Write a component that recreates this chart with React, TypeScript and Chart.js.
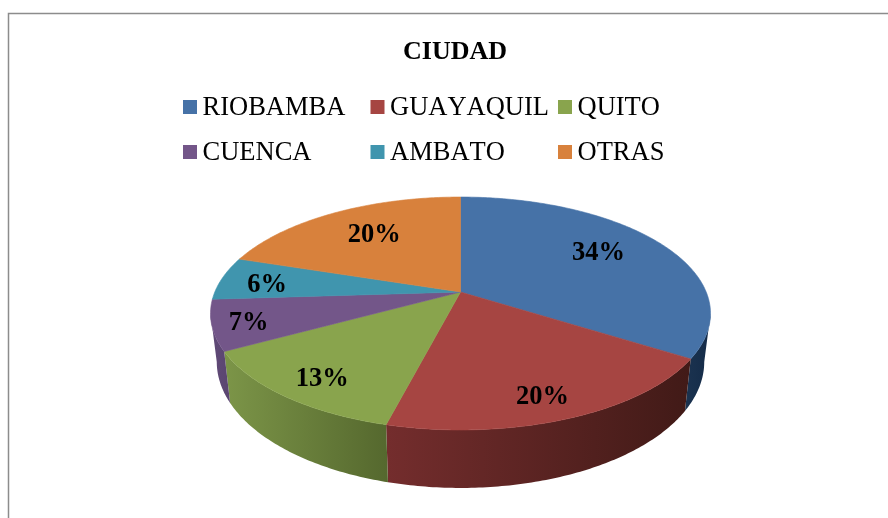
import React, { useEffect, useRef } from "react";
import { Chart, registerables, PieController, ArcElement } from "chart.js";

const categories = ["RIOBAMBA", "GUAYAQUIL", "QUITO", "CUENCA", "AMBATO", "OTRAS"];
const shares = [34, 20, 13, 7, 6, 20];
const topColors = ["#4672A7", "#A64542", "#89A44D", "#735689", "#4095AE", "#D8813C"];
const wallLeft = ["#1B3350", "#742D2D", "#7C9548", "#614A78", "#36788C", "#A8642E"];
const wallRight = ["#142B48", "#411A17", "#55682E", "#5A4570", "#36788C", "#A8642E"];
const labelDepth = [0.68, 0.85, 0.83, 0.87, 0.8, 0.68];
const labelNudgeX = [0, -8, 4, 3, -2, 3];
const labelNudgeY = [-4, 1, 3, 3, 4, -1];
const titleText = "CIUDAD";

const FONT = '"Liberation Serif", "Times New Roman", serif';
const APEX_X = 460.5;
const APEX_Y = 292;
const RADIUS_X = 245.7;
const RADIUS_Y = 112.5;
const TILT = 0.1845;

// Perspective projection of a point on the unit disc (angle clockwise from 12 o'clock).
function project(theta: number, f = 1): [number, number] {
  const u = Math.sin(theta) * f;
  const v = -Math.cos(theta) * f;
  const w = 1 - TILT * v;
  return [APEX_X + (RADIUS_X * u) / w, APEX_Y + (RADIUS_Y * v) / w];
}
function projectLower(theta: number): [number, number] {
  const [x, y] = project(theta);
  return [APEX_X + (x - APEX_X) * 0.975, y * 1.083 + 22.3];
}
function sweep(a: number, b: number): number[] {
  const n = Math.max(2, Math.ceil(Math.abs(b - a) / (Math.PI / 240)));
  const out: number[] = [];
  for (let i = 0; i <= n; i++) out.push(a + ((b - a) * i) / n);
  return out;
}

class Arc3D extends ArcElement {
  static id = "arc3d";
  draw(ctx: CanvasRenderingContext2D) {
    const self = this as any;
    const a = self.startAngle + Math.PI / 2;
    const b = self.endAngle + Math.PI / 2;
    const color = self.options.backgroundColor;
    ctx.save();
    ctx.beginPath();
    ctx.moveTo(APEX_X, APEX_Y);
    for (const t of sweep(a, b)) {
      const [x, y] = project(t);
      ctx.lineTo(x, y);
    }
    ctx.closePath();
    ctx.fillStyle = color;
    ctx.strokeStyle = color;
    ctx.lineWidth = 0.6;
    ctx.fill();
    ctx.stroke();
    ctx.restore();
  }
}

class Pie3DController extends PieController {
  static id = "pie3d";
  static defaults = { dataElementType: "arc3d" };
  draw() {
    const self = this as any;
    const ctx: CanvasRenderingContext2D = self.chart.ctx;
    const arcs = self.getMeta().data;
    const lo = (100.7 * Math.PI) / 180;
    const hi = (259.3 * Math.PI) / 180;
    arcs.forEach((arc: any, i: number) => {
      const a = Math.max(arc.startAngle + Math.PI / 2, lo);
      const b = Math.min(arc.endAngle + Math.PI / 2, hi);
      if (b <= a) return;
      const upper = sweep(a, b).map((t) => project(t));
      const lower = sweep(b, a).map((t) => projectLower(t));
      const pts = upper.concat(lower);
      const xs = pts.map((p) => p[0]);
      const g = ctx.createLinearGradient(Math.min(...xs), 0, Math.max(...xs), 0);
      g.addColorStop(0, wallLeft[i]);
      g.addColorStop(1, wallRight[i]);
      ctx.beginPath();
      pts.forEach((p, k) => (k ? ctx.lineTo(p[0], p[1]) : ctx.moveTo(p[0], p[1])));
      ctx.closePath();
      ctx.fillStyle = g;
      ctx.fill();
    });
    super.draw();
  }
}

Chart.register(...registerables, Arc3D, Pie3DController);

const framePlugin = {
  id: "frame",
  beforeDraw(chart: any) {
    const ctx = chart.ctx;
    ctx.save();
    ctx.strokeStyle = "#8C8C8C";
    ctx.lineWidth = 1.5;
    ctx.beginPath();
    ctx.moveTo(8.5, 518);
    ctx.lineTo(8.5, 13.5);
    ctx.lineTo(888, 13.5);
    ctx.stroke();
    ctx.restore();
  },
};

const legendPlugin = {
  id: "gridLegend",
  afterDraw(chart: any) {
    const ctx = chart.ctx;
    const colors = chart.data.datasets[0].backgroundColor;
    ctx.save();
    ctx.font = `26.5px ${FONT}`;
    ctx.fontKerning = "none";
    ctx.textBaseline = "alphabetic";
    ctx.textAlign = "left";
    chart.data.labels.forEach((name: string, i: number) => {
      const x = 183 + (i % 3) * 187.5;
      const y = 100 + Math.floor(i / 3) * 45;
      ctx.fillStyle = colors[i];
      ctx.fillRect(x, y, 14, 14);
      ctx.fillStyle = "#000";
      ctx.fillText(name, x + 19.5, y + 15);
    });
    ctx.restore();
  },
};

const sliceLabelPlugin = {
  id: "sliceLabels",
  afterDatasetsDraw(chart: any) {
    const ctx = chart.ctx;
    const arcs = chart.getDatasetMeta(0).data;
    ctx.save();
    ctx.font = `bold 26.5px ${FONT}`;
    ctx.fillStyle = "#000";
    ctx.textAlign = "center";
    ctx.textBaseline = "middle";
    arcs.forEach((arc: any, i: number) => {
      const mid = (arc.startAngle + arc.endAngle) / 2 + Math.PI / 2;
      const [x, y] = project(mid, labelDepth[i]);
      ctx.fillText(`${chart.data.datasets[0].data[i]}%`, x + labelNudgeX[i], y + labelNudgeY[i]);
    });
    ctx.restore();
  },
};

export default function App() {
  const ref = useRef<HTMLCanvasElement>(null);
  useEffect(() => {
    const chart = new Chart(ref.current as HTMLCanvasElement, {
      type: "pie3d" as any,
      data: {
        labels: categories,
        datasets: [{ data: shares, backgroundColor: topColors, borderWidth: 0, clip: false } as any],
      },
      plugins: [framePlugin, legendPlugin, sliceLabelPlugin],
      options: {
        responsive: false,
        animation: false,
        events: [],
        layout: { padding: { left: 22 } },
        plugins: {
          legend: { display: false },
          tooltip: { enabled: false },
          title: {
            display: true,
            text: titleText,
            color: "#000",
            font: { family: FONT, size: 26, weight: "bold" },
            padding: { top: 37, bottom: 10 },
          },
        },
      } as any,
    });
    return () => chart.destroy();
  }, []);
  return (
    <div style={{ position: "fixed", left: 0, top: 0, width: 888, height: 518, background: "#fff" }}>
      <canvas ref={ref} width={888} height={518} style={{ display: "block" }} />
    </div>
  );
}
